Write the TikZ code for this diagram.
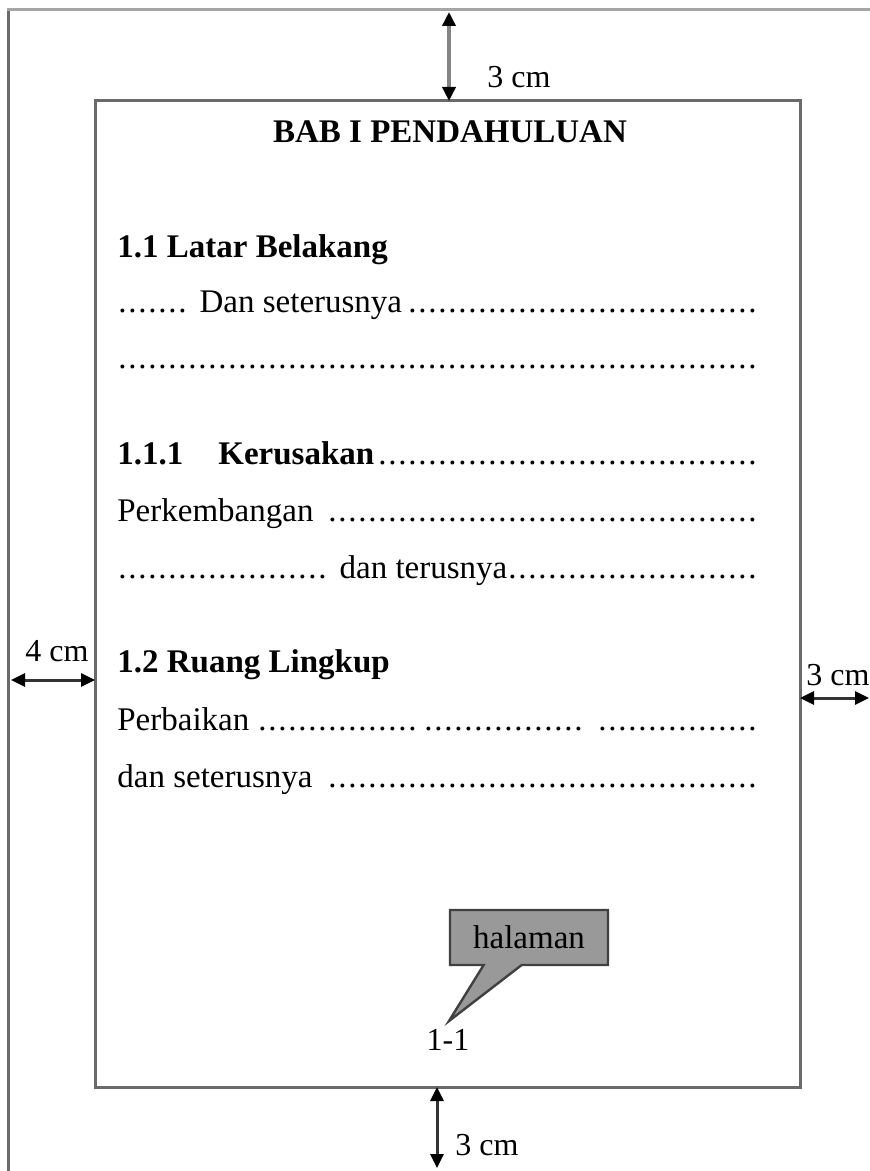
\documentclass[tikz,border=0pt]{standalone}
\usepackage{fontspec}
\setmainfont{Liberation Serif}
\usetikzlibrary{arrows.meta,shapes.callouts}
\definecolor{framegray}{HTML}{6A6A6A}
\definecolor{lightframe}{HTML}{A5A5A5}
\definecolor{boxfill}{HTML}{999999}
\newcommand\dfill{\leaders\hbox to 5pt{\hss.\hss}\hfill}
\begin{document}
\begin{tikzpicture}[x=0.5pt,y=-0.5pt,
  txt/.style={inner sep=0pt, anchor=base west, font=\fontsize{16.5}{20}\selectfont},
  hd/.style={txt, font=\fontsize{16.5}{20}\selectfont\bfseries},
  dim/.style={draw=black!80, line width=1.5pt,
    {Triangle[length=7pt,width=6.5pt,color=black]}-{Triangle[length=7pt,width=6.5pt,color=black]}},
  lbl/.style={inner sep=0pt, anchor=base west, font=\fontsize{16}{19}\selectfont}]
\useasboundingbox (0,0) rectangle (870,1171);
\fill[white] (0,0) rectangle (870,1171);
% outer page
\draw[framegray, line width=1.5pt] (8,1171) -- (8,10);
\draw[lightframe, line width=1.5pt] (7.3,10) -- (870,10);
% inner text area
\node (body) [draw=framegray, line width=1.5pt, outer sep=0pt, inner sep=0pt,
  minimum width=352.5pt, minimum height=493pt, anchor=north west] at (95,101) {};
% dimension arrows
\coordinate (topA) at (449,12);
\draw[dim, draw=lightframe!80!black, line width=2pt] (topA) -- (topA |- body.north);
\node[lbl] (topL) at (487,88) {3 cm};
\coordinate (leftA) at (11,680);
\draw[dim] (leftA) -- (leftA -| body.west);
\node[lbl] (leftL) at (25,661) {4 cm};
\coordinate (rightA) at (869,698);
\draw[dim] (body.east |- rightA) -- (rightA);
\node[lbl] (rightL) at (806,685) {3 cm};
\coordinate (botA) at (437,1168);
\draw[dim] (body.south -| botA) -- (botA);
\node[lbl] (botL) at (455,1155) {3 cm};
% text
\node[hd, anchor=base] (title) at (450,143) {BAB I PENDAHULUAN};
\node[hd] (h11) at (117,258) {1.1 Latar Belakang};
\node[txt] (l1) at (117,313) {\makebox[320pt][l]{\hbox to 37pt{\dfill} Dan seterusnya\dfill}};
\node[txt] (l2) at (117,368) {\makebox[320.5pt][l]{\dfill}};
\node[txt] (h111) at (117,464) {\makebox[324pt][l]{\makebox[50.5pt][l]{\bfseries 1.1.1}\textbf{Kerusakan}\dfill}};
\node[txt] (l3) at (117,521) {\makebox[323pt][l]{Perkembangan \dfill}};
\node[txt] (l4) at (117,578) {\makebox[324.5pt][l]{\hbox to 107pt{\dfill} dan terusnya\dfill}};
\node[hd] (h12) at (117,672) {1.2 Ruang Lingkup};
\node[txt] (l5) at (117,730) {\makebox[324pt][l]{Perbaikan \hbox to 80pt{\dfill}\hspace{3pt}\hbox to 81pt{\dfill}\hspace{3pt}\dfill}};
\node[txt] (l6) at (117,787) {\makebox[321.5pt][l]{dan seterusnya \dfill}};
% callout
\coordinate (tip) at (449,1021);
\node[rectangle callout, draw=black!75, fill=boxfill, line width=1.2pt,
  minimum width=79pt, minimum height=27.5pt, inner sep=2pt,
  callout absolute pointer={(tip)}, callout pointer width=19pt,
  font=\fontsize{16.5}{20}\selectfont] (cal) at (529,937.5) {halaman};
\node[lbl, anchor=base] (pnum) at (448,1050) {1-1};
\end{tikzpicture}
\end{document}
